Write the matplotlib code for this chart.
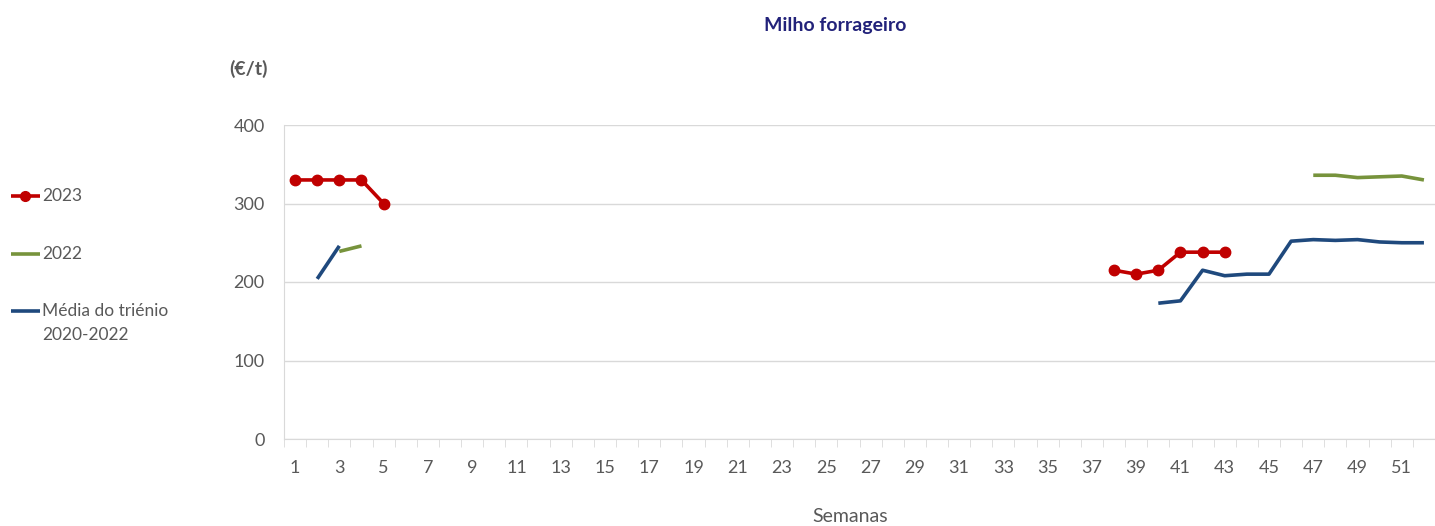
import numpy as np
import matplotlib
matplotlib.use("Agg")
import matplotlib.pyplot as plt
from matplotlib.lines import Line2D

plt.rcParams['font.family'] = ['Lato', 'DejaVu Sans']

weeks = np.arange(1, 53)
nan = np.nan

s2023 = {1: 330, 2: 330, 3: 330, 4: 330, 5: 300,
         38: 215, 39: 210, 40: 215, 41: 238, 42: 238, 43: 238}
s2022 = {3: 239, 4: 246,
         47: 336, 48: 336, 49: 333, 50: 334, 51: 335, 52: 330}
smedia = {2: 204, 3: 246,
          40: 173, 41: 176, 42: 215, 43: 208, 44: 210, 45: 210,
          46: 252, 47: 254, 48: 253, 49: 254, 50: 251, 51: 250, 52: 250}

def to_series(d):
    return np.array([d.get(w, nan) for w in weeks], dtype=float)

y2023 = to_series(s2023)
y2022 = to_series(s2022)
ymedia = to_series(smedia)

xtick_labels = [str(w) for w in range(1, 53, 2)]
yticks = [0, 100, 200, 300, 400]
legend_labels = ['2023', '2022', ['Média do triénio', '2020-2022']]

c_red = '#C00000'
c_green = '#77933C'
c_blue = '#1F497D'
c_text = '#595959'
c_grid = '#D9D9D9'

W, H = 1435, 526
fig = plt.figure(figsize=(W/100, H/100), dpi=100)
ax = fig.add_axes([284/W, 1-439/H, 1-284/W, (439-125)/H])

ax.plot(weeks, ymedia, color=c_blue, lw=2.6, solid_capstyle='butt', zorder=3)
ax.plot(weeks, y2022, color=c_green, lw=2.6, solid_capstyle='butt', zorder=3)
ax.plot(weeks, y2023, color=c_red, lw=2.6, marker='o', ms=7.5, zorder=4)

ax.set_xlim(0.5, 52.5)
ax.set_ylim(0, 400)
ax.set_yticks(yticks)
ax.set_yticklabels([str(v) for v in yticks], fontsize=13, color=c_text)
ax.set_xticks(range(1, 53, 2))
ax.set_xticklabels(xtick_labels, fontsize=13, color=c_text)
ax.set_xticks(np.arange(0.5, 53, 1), minor=True)
ax.tick_params(axis='x', which='major', length=0, pad=15)
ax.tick_params(axis='x', which='minor', length=6, color=c_grid, direction='out')
ax.tick_params(axis='y', length=0, pad=14)
ax.grid(axis='y', color=c_grid, lw=1)
ax.set_axisbelow(True)
for s in ['top', 'right']:
    ax.spines[s].set_visible(False)
ax.spines['left'].set_color(c_grid)
ax.spines['bottom'].set_color(c_grid)

fig.text(835/W, 1-25/H, 'Milho forrageiro', ha='center', va='center',
         fontsize=14, fontweight='bold', color='#22227A')
fig.text(249/W, 1-69/H, '(€/t)', ha='center', va='center',
         fontsize=14, fontweight='bold', color=c_text)
fig.text(850/W, 1-516/H, 'Semanas', ha='center', va='center',
         fontsize=14, color=c_text)

# legend drawn manually at left
styles = [dict(color=c_red, lw=2.6, marker='o', ms=7, markevery=[1]),
          dict(color=c_green, lw=2.6),
          dict(color=c_blue, lw=2.6)]
ys = [196, 254, 311]
for lab, st, yy in zip(legend_labels, styles, ys):
    fy = 1 - yy/H
    fig.add_artist(Line2D([11/W, 25/W, 40/W], [fy, fy, fy],
                          transform=fig.transFigure, solid_capstyle='butt', **st))
    lines = lab if isinstance(lab, list) else [lab]
    for i, ln in enumerate(lines):
        fig.text(42/W, 1 - (yy + 24*i)/H, ln, ha='left', va='center',
                 fontsize=12.5, color=c_text)

fig.savefig('out.png', dpi=100)
